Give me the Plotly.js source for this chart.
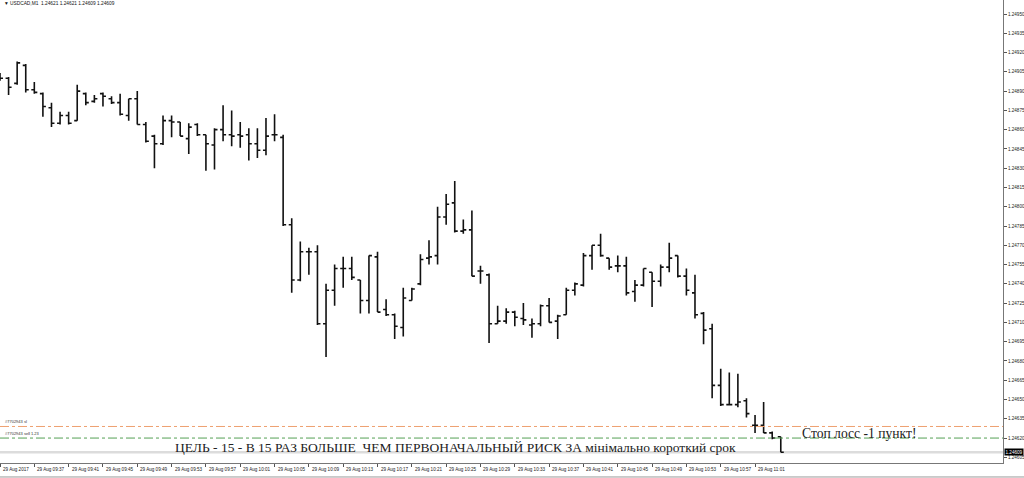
<!DOCTYPE html>
<html><head><meta charset="utf-8">
<script src="https://cdn.plot.ly/plotly-3.0.1.min.js"></script>
<style>html,body{margin:0;padding:0;background:#fff;overflow:hidden}#chart{width:1024px;height:478px}</style>
</head><body><div id="chart"></div>
<script>
// ---- data ----
const day = "2017-08-29";
const minutes = ("09:33 09:34 09:35 09:36 09:37 09:38 09:39 09:40 09:41 09:42 09:43 09:44 09:45 09:46 09:47 09:48 09:49 09:50 09:51 09:52 " +
  "09:53 09:54 09:55 09:56 09:57 09:58 09:59 10:00 10:01 10:02 10:03 10:04 10:05 10:06 10:07 10:08 10:09 10:10 10:11 10:12 " +
  "10:13 10:14 10:15 10:16 10:17 10:18 10:19 10:20 10:21 10:22 10:23 10:24 10:25 10:26 10:27 10:28 10:29 10:30 10:31 10:32 " +
  "10:33 10:34 10:35 10:36 10:37 10:38 10:39 10:40 10:41 10:42 10:43 10:44 10:45 10:46 10:47 10:48 10:49 10:50 10:51 10:52 " +
  "10:53 10:54 10:55 10:56 10:57 10:58 10:59 11:00 11:01 11:02 11:03 11:04").split(" ");

const opens = [1.24902,1.24900,1.24896,1.24910,1.24891,1.24888,1.24877,1.24865,1.24871,1.24867,
  1.24888,1.24882,1.24888,1.24884,1.24881,1.24871,1.24884,1.24864,1.24855,1.24849,
  1.24867,1.24866,1.24853,1.24864,1.24856,1.24848,1.24860,1.24856,1.24856,1.24856,
  1.24849,1.24844,1.24856,1.24854,1.24786,1.24743,1.24765,1.24765,1.24709,1.24735,
  1.24752,1.24752,1.24743,1.24727,1.24761,1.24720,1.24716,1.24706,1.24727,1.24740,
  1.24760,1.24762,1.24792,1.24803,1.24781,1.24782,1.24750,1.24747,1.24709,1.24711,
  1.24718,1.24713,1.24708,1.24709,1.24723,1.24711,1.24716,1.24735,1.24739,1.24762,
  1.24770,1.24760,1.24754,1.24754,1.24734,1.24739,1.24749,1.24742,1.24753,1.24762,
  1.24746,1.24733,1.24717,1.24705,1.24661,1.24646,1.24646,1.24649,1.24630,1.24630,
  1.24624,1.24621];
const highs = [1.24904,1.24901,1.24913,1.24911,1.24897,1.24889,1.24881,1.24874,1.24874,1.24895,
  1.24889,1.24887,1.24889,1.24886,1.24888,1.24884,1.24890,1.24866,1.24856,1.24871,
  1.24871,1.24866,1.24865,1.24865,1.24856,1.24861,1.24879,1.24875,1.24866,1.24861,
  1.24861,1.24869,1.24872,1.24856,1.24791,1.24773,1.24768,1.24770,1.24740,1.24755,
  1.24761,1.24761,1.24743,1.24762,1.24765,1.24728,1.24717,1.24737,1.24737,1.24763,
  1.24774,1.24800,1.24810,1.24820,1.24790,1.24797,1.24754,1.24748,1.24723,1.24721,
  1.24719,1.24725,1.24713,1.24724,1.24729,1.24716,1.24737,1.24741,1.24764,1.24770,
  1.24779,1.24760,1.24762,1.24761,1.24743,1.24752,1.24749,1.24755,1.24772,1.24762,
  1.24752,1.24747,1.24718,1.24709,1.24674,1.24671,1.24670,1.24651,1.24638,1.24648,
  1.24625,1.24621];
const lows = [1.24898,1.24887,1.24895,1.24889,1.24888,1.24870,1.24862,1.24864,1.24864,1.24867,
  1.24879,1.24881,1.24878,1.24880,1.24871,1.24867,1.24864,1.24850,1.24830,1.24848,
  1.24854,1.24855,1.24841,1.24855,1.24828,1.24829,1.24851,1.24847,1.24846,1.24836,
  1.24838,1.24840,1.24851,1.24785,1.24733,1.24742,1.24747,1.24708,1.24683,1.24723,
  1.24737,1.24743,1.24717,1.24717,1.24718,1.24715,1.24697,1.24699,1.24727,1.24739,
  1.24755,1.24755,1.24786,1.24780,1.24779,1.24746,1.24740,1.24694,1.24709,1.24709,
  1.24707,1.24708,1.24698,1.24707,1.24710,1.24697,1.24716,1.24731,1.24738,1.24751,
  1.24761,1.24751,1.24749,1.24731,1.24726,1.24738,1.24722,1.24738,1.24749,1.24745,
  1.24731,1.24713,1.24693,1.24651,1.24645,1.24646,1.24644,1.24636,1.24624,1.24624,
  1.24619,1.24609];
const closes = [1.24900,1.24893,1.24912,1.24891,1.24889,1.24878,1.24865,1.24871,1.24865,1.24890,
  1.24881,1.24884,1.24886,1.24881,1.24872,1.24884,1.24864,1.24851,1.24849,1.24867,
  1.24866,1.24855,1.24862,1.24856,1.24849,1.24860,1.24856,1.24855,1.24855,1.24849,
  1.24844,1.24855,1.24856,1.24786,1.24743,1.24765,1.24765,1.24709,1.24735,1.24752,
  1.24752,1.24745,1.24727,1.24762,1.24718,1.24716,1.24707,1.24729,1.24736,1.24759,
  1.24761,1.24792,1.24802,1.24781,1.24782,1.24746,1.24750,1.24709,1.24711,1.24718,
  1.24714,1.24712,1.24709,1.24723,1.24710,1.24715,1.24735,1.24740,1.24762,1.24770,
  1.24762,1.24753,1.24754,1.24733,1.24739,1.24752,1.24742,1.24753,1.24760,1.24746,
  1.24735,1.24716,1.24704,1.24661,1.24646,1.24646,1.24648,1.24639,1.24630,1.24624,
  1.24620,1.24609];

const xTickTimes = ["09:33","09:37","09:41","09:45","09:49","09:53","09:57","10:01","10:05","10:09","10:13","10:17",
  "10:21","10:25","10:29","10:33","10:37","10:41","10:45","10:49","10:53","10:57","11:01"];
const xTickLabels = ["29 Aug 2017","29 Aug 09:37","29 Aug 09:41","29 Aug 09:45","29 Aug 09:49","29 Aug 09:53","29 Aug 09:57",
  "29 Aug 10:01","29 Aug 10:05","29 Aug 10:09","29 Aug 10:13","29 Aug 10:17","29 Aug 10:21","29 Aug 10:25","29 Aug 10:29",
  "29 Aug 10:33","29 Aug 10:37","29 Aug 10:41","29 Aug 10:45","29 Aug 10:49","29 Aug 10:53","29 Aug 10:57","29 Aug 11:01"];
const yTicks = [1.24605,1.24620,1.24635,1.24650,1.24665,1.24680,1.24695,1.24710,1.24725,1.24740,1.24755,1.24770,
  1.24785,1.24800,1.24815,1.24830,1.24845,1.24860,1.24875,1.24890,1.24905,1.24920,1.24935,1.24950];

const bidPrice = 1.24609;
const slPrice = 1.24629;
const entryPrice = 1.24620;
const headerText = "▼ USDCAD,M1  1.24621 1.24621 1.24609 1.24609";
const slLabel = "#7702943 sl";
const entryLabel = "#7702943 sell 1.23";
const targetText = "ЦЕЛЬ - 15 - В 15 РАЗ БОЛЬШЕ  ЧЕМ ПЕРВОНАЧАЛЬНЫЙ РИСК ЗА мінімально короткий срок";
const stopText = "Стоп лосс -1 пункт!";

// ---- chart ----
const ts = m => day + " " + m + ":00";
const xs = minutes.map(ts);

const trace = {
  type: "ohlc", x: xs, open: opens, high: highs, low: lows, close: closes,
  increasing: {line: {color: "#111", width: 1.6}},
  decreasing: {line: {color: "#111", width: 1.6}},
  tickwidth: 0.35, hoverinfo: "skip", showlegend: false
};

const smallFont = {family: "Liberation Sans, Arial, sans-serif", size: 4.6, color: "#222"};
const annotations = xTickTimes.map((t, i) => ({
  xref: "x", yref: "paper", x: ts(t), y: -0.0151, xanchor: "left", yanchor: "middle",
  xshift: 1, text: xTickLabels[i], showarrow: false, font: smallFont
}));
annotations.push(
  {xref: "paper", yref: "paper", x: 0.002, y: 0.9915, xanchor: "left", yanchor: "middle", text: headerText,
   showarrow: false, font: {family: "Liberation Sans, Arial, sans-serif", size: 4.8, color: "#111"}},
  {xref: "paper", yref: "y", x: 0.003, y: slPrice, xanchor: "left", yanchor: "bottom", yshift: 0, text: slLabel,
   showarrow: false, font: {family: "Liberation Sans, Arial, sans-serif", size: 4, color: "#333"}},
  {xref: "paper", yref: "y", x: 0.003, y: entryPrice, xanchor: "left", yanchor: "bottom", yshift: 0, text: entryLabel,
   showarrow: false, font: {family: "Liberation Sans, Arial, sans-serif", size: 4, color: "#333"}},
  {xref: "paper", yref: "y", x: 0.1725, y: 1.246130, xanchor: "left", yanchor: "middle", text: targetText,
   showarrow: false, font: {family: "Liberation Serif, Times New Roman, serif", size: 13.5, color: "#222"}},
  {xref: "paper", yref: "y", x: 0.7976, y: 1.246235, xanchor: "left", yanchor: "middle", text: stopText,
   showarrow: false, font: {family: "Liberation Serif, Times New Roman, serif", size: 13.6, color: "#222"}},
  {xref: "paper", yref: "y", x: 1, y: bidPrice, xanchor: "left", yanchor: "middle", xshift: 1, text: bidPrice.toFixed(5),
   showarrow: false, bgcolor: "#000", borderpad: 0.5, font: {family: "Liberation Sans, Arial, sans-serif", size: 4.6, color: "#fff"}}
);

const shapes = [
  {type: "line", xref: "paper", yref: "y", x0: 0, x1: 1, y0: bidPrice, y1: bidPrice, line: {color: "#dcdcdc", width: 2.5}, layer: "below"},
  {type: "line", xref: "paper", yref: "y", x0: 0, x1: 1, y0: slPrice, y1: slPrice, line: {color: "#eea070", width: 1, dash: "dashdot"}},
  {type: "line", xref: "paper", yref: "y", x0: 0, x1: 1, y0: entryPrice, y1: entryPrice, line: {color: "#55a055", width: 1, dash: "dashdot"}},
  {type: "line", xref: "paper", yref: "paper", x0: 0, x1: 1.021, y0: -0.0302, y1: -0.0302, line: {color: "#999", width: 1}}
];

const layout = {
  width: 1024, height: 478,
  margin: {l: 0, r: 21, t: 0, b: 15, pad: 0},
  paper_bgcolor: "#fff", plot_bgcolor: "#fff",
  showlegend: false,
  xaxis: {
    type: "date", range: [day + " 09:33:00", day + " 11:29:54"],
    rangeslider: {visible: false}, showgrid: false, zeroline: false,
    showline: true, linecolor: "#777", linewidth: 1,
    tickmode: "array", tickvals: xTickTimes.map(ts), showticklabels: false,
    ticks: "outside", ticklen: 3, tickcolor: "#555", tickwidth: 1
  },
  yaxis: {
    side: "right", range: [1.2460058, 1.249609], showgrid: false, zeroline: false,
    showline: true, linecolor: "#777", linewidth: 1,
    tickmode: "array", tickvals: yTicks, tickformat: ".5f",
    ticks: "outside", ticklen: 3, tickcolor: "#555", tickwidth: 1,
    tickfont: {family: "Liberation Sans, Arial, sans-serif", size: 4.6, color: "#222"}
  },
  annotations: annotations,
  shapes: shapes
};

Plotly.newPlot("chart", [trace], layout, {displayModeBar: false, staticPlot: true});
</script>
</body></html>
